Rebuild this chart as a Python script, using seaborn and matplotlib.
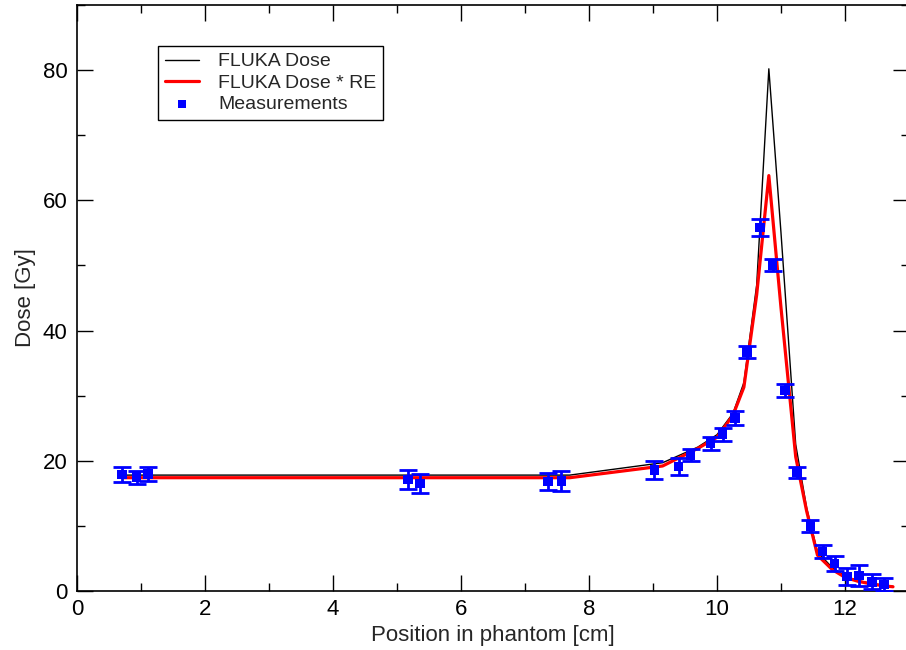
import numpy as np
import pandas as pd
import matplotlib
matplotlib.use("Agg")
import matplotlib.pyplot as plt
from matplotlib.ticker import MultipleLocator
import seaborn as sns

# Simulation curves
sim_x = [0.7, 7.7, 9.15, 9.7, 10.0, 10.25, 10.42, 10.62, 10.81, 11.0, 11.23, 11.4, 11.57, 11.8, 12.0, 12.2, 12.4, 12.6, 12.75]
fluka_dose = [17.8, 17.8, 19.7, 22.1, 24.0, 27.3, 32.0, 47.0, 80.2, 55.0, 22.5, 12.8, 6.0, 3.6, 2.3, 1.6, 1.2, 0.9, 0.7]
fluka_dose_re = [17.4, 17.4, 19.2, 21.9, 23.6, 27.0, 31.3, 45.5, 63.8, 43.5, 20.6, 12.3, 5.5, 3.3, 2.1, 1.5, 1.1, 0.8, 0.65]

# Measurements
meas_x = [0.70, 0.93, 1.11, 5.17, 5.36, 7.36, 7.57, 9.02, 9.40, 9.59, 9.90, 10.09, 10.28,
          10.47, 10.67, 10.87, 11.06, 11.25, 11.46, 11.65, 11.84, 12.03, 12.22, 12.42, 12.61]
meas_y = [17.9, 17.5, 18.0, 17.1, 16.5, 16.8, 16.9, 18.6, 19.1, 20.9, 22.7, 24.1, 26.6,
          36.7, 55.8, 50.1, 30.8, 18.2, 10.0, 6.1, 4.2, 2.2, 2.35, 1.4, 1.0]
meas_err = [1.1, 1.0, 1.1, 1.5, 1.45, 1.3, 1.5, 1.35, 1.3, 0.9, 1.0, 1.0, 1.1,
            0.95, 1.35, 0.95, 0.95, 0.9, 0.9, 1.0, 1.15, 1.35, 1.6, 1.15, 1.0]

sns.set_style("ticks")
plt.rcParams["font.family"] = ["Liberation Sans", "DejaVu Sans"]

fig = plt.figure(figsize=(9.06, 6.5), dpi=100)
W, H = 906, 650
ax = fig.add_axes([77 / W, (H - 591) / H, 832 / W, 586 / H])

sim = pd.DataFrame({"x": sim_x, "dose": fluka_dose, "dose_re": fluka_dose_re})
meas = pd.DataFrame({"x": meas_x, "y": meas_y, "err": meas_err})

sns.lineplot(data=sim, x="x", y="dose", ax=ax, color="black", lw=1.0,
             sort=False, estimator=None, label="FLUKA Dose", zorder=2)
sns.lineplot(data=sim, x="x", y="dose_re", ax=ax, color="#ff0000", lw=2.3,
             sort=False, estimator=None, label="FLUKA Dose * RE", zorder=3)
ax.errorbar(meas["x"], meas["y"], yerr=meas["err"], fmt="none", ecolor="#0000ff",
            elinewidth=2.0, capsize=6.5, capthick=2.0, zorder=4)
sns.scatterplot(data=meas, x="x", y="y", ax=ax, marker="s", color="#0000ff",
                s=46, edgecolor="none", linewidth=0, label="Measurements", zorder=5)

ax.set_xlim(0, 13)
ax.set_ylim(0, 90)
ax.xaxis.set_major_locator(MultipleLocator(2))
ax.xaxis.set_minor_locator(MultipleLocator(1))
ax.yaxis.set_major_locator(MultipleLocator(20))
ax.yaxis.set_minor_locator(MultipleLocator(10))
ax.tick_params(which="both", direction="in", top=True, right=True, width=1.0,
               colors="black", labelsize=16)
ax.tick_params(which="major", length=11.5)
ax.tick_params(which="minor", length=6)
ax.tick_params(axis="y", pad=7)
ax.tick_params(axis="x", pad=6)
for sp in ax.spines.values():
    sp.set_linewidth(1.2)
    sp.set_color("black")

ax.set_xlabel("Position in phantom [cm]", fontsize=16, labelpad=3)
ax.set_ylabel("Dose [Gy]", fontsize=16, labelpad=5)

leg = ax.legend(loc="upper left", bbox_to_anchor=((158 - 77) / 832, (591 - 46) / 586),
                borderaxespad=0, fontsize=14, frameon=True, fancybox=False,
                edgecolor="black", framealpha=1, handlelength=1.75, handletextpad=1.0,
                labelspacing=0.2, borderpad=0.35, markerscale=0.85)
leg.get_frame().set_linewidth(1.0)

fig.savefig("out.png", dpi=100)
